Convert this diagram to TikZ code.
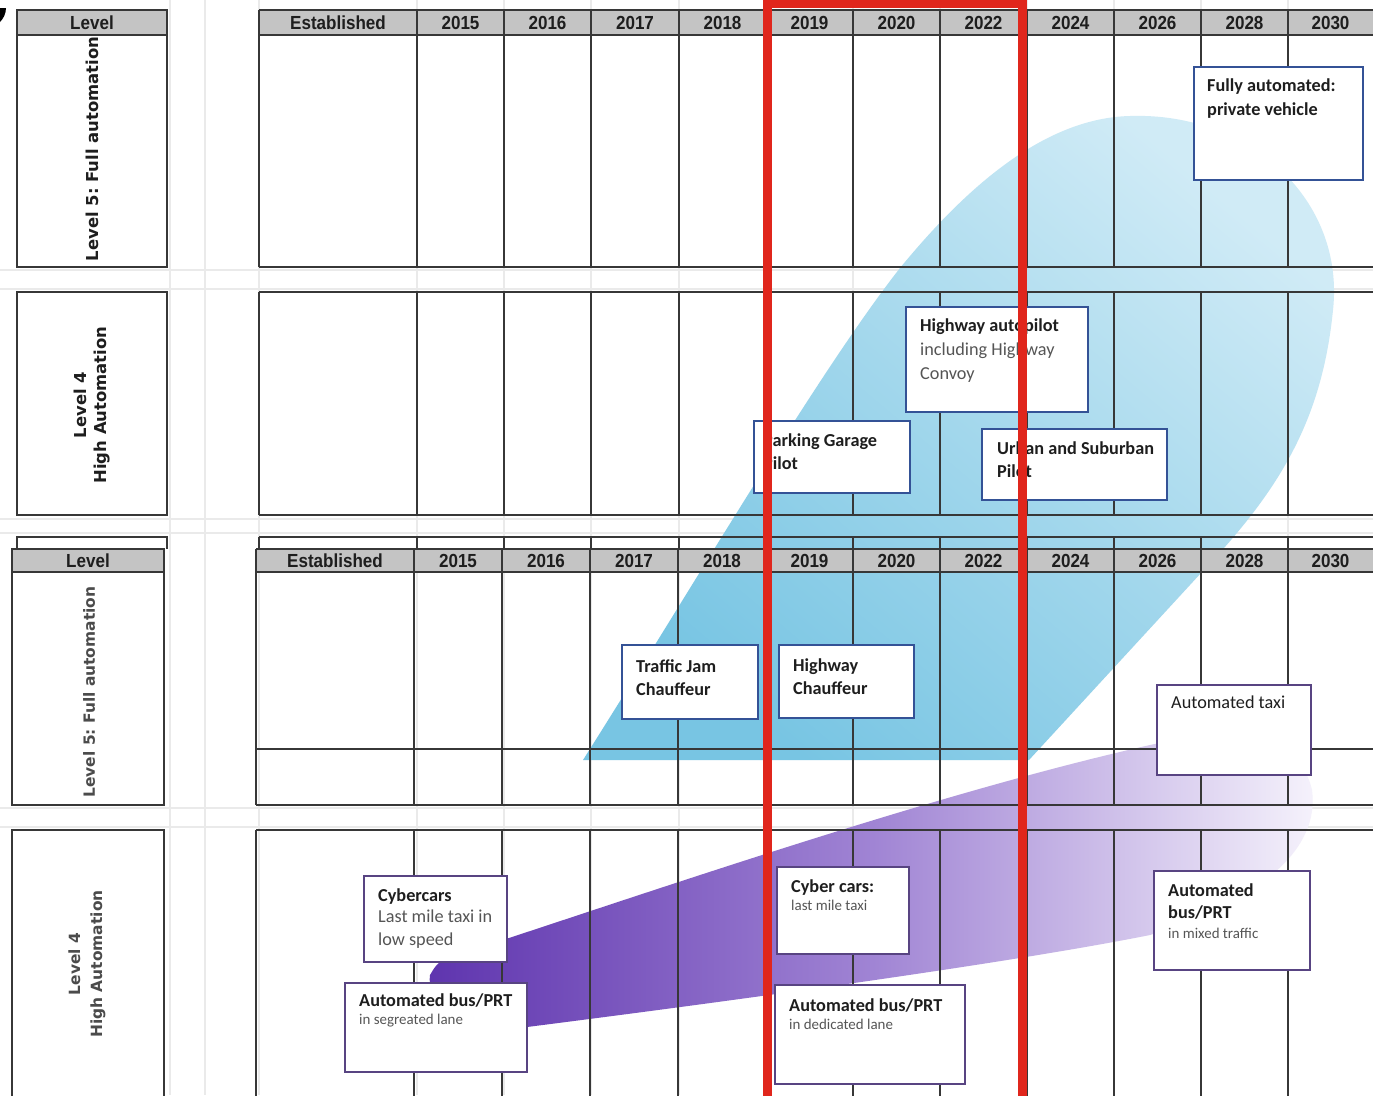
\documentclass[tikz,border=0pt]{standalone}
\usepackage{fontspec}
\frenchspacing
\newfontfamily\hdrfont[FakeStretch=0.9]{Liberation Sans}
\newfontfamily\dvfont{DejaVu Sans}
\newfontfamily\boxfont{Carlito}
\definecolor{hdrgray}{RGB}{196,196,196}
\definecolor{tblline}{RGB}{55,55,55}
\definecolor{faint}{RGB}{234,234,234}
\definecolor{bluebd}{RGB}{52,82,150}
\definecolor{purpbd}{RGB}{88,68,130}
\definecolor{redbd}{RGB}{224,38,28}
\definecolor{blueA}{RGB}{120,197,227}
\definecolor{blueM}{RGB}{162,215,236}
\definecolor{blueB}{RGB}{208,235,246}
\definecolor{purA}{RGB}{94,52,174}
\definecolor{purM}{RGB}{160,132,212}
\definecolor{purB}{RGB}{246,243,252}
\definecolor{txtdark}{RGB}{30,30,30}
\definecolor{txtgray}{RGB}{85,85,85}
\begin{document}
\begin{tikzpicture}[x=1bp,y=-1bp,
  tbl/.style={draw=tblline, line width=1.8bp},
  faintline/.style={draw=faint, line width=1.2bp},
  hdrtxt/.style={font=\hdrfont\bfseries\fontsize{19}{19}\selectfont, text=txtdark, inner sep=0},
  lvltxt/.style={font=\dvfont\bfseries\fontsize{16.5}{21}\selectfont, text=txtdark, inner sep=0, rotate=90, align=center},
  lvltxtb/.style={font=\dvfont\bfseries\fontsize{15.5}{22}\selectfont, text=txtdark!80, inner sep=0, rotate=90, align=center},
  bluebox/.style={draw=bluebd, line width=2.8bp, fill=white, inner sep=0, outer sep=0, anchor=north west},
  purbox/.style={draw=purpbd, line width=2.8bp, fill=white, inner sep=0, outer sep=0, anchor=north west},
  ttl/.style={font=\boxfont\bfseries\fontsize{18.3}{24}\selectfont, text=txtdark, align=left, inner sep=0, anchor=north west},
  reg/.style={font=\boxfont\fontsize{18.3}{22.5}\selectfont, text=txtgray, align=left, inner sep=0, anchor=north west},
  small/.style={font=\boxfont\fontsize{15}{17}\selectfont, text=txtgray, align=left, inner sep=0, anchor=north west},
  redframe/.style={draw=redbd, line width=9bp, line join=miter}
]
\useasboundingbox[fill=white] (0,0) rectangle (1373,1095);

% faint spreadsheet grid
\foreach \x in {170,205,259,417,504,591,679,766,853,940,1027,1114,1201,1288}
  \draw[faintline] (\x,0) -- (\x,1095);
\foreach \y in {270,289,519,533,808,827}
  \draw[faintline] (0,\y) -- (1373,\y);

% blue region
\shade[top color=blueB, bottom color=blueA, middle color=blueM, shading angle=-40]
  (583,760) .. controls (700,575) and (820,370) .. (900,268)
  .. controls (960,195) and (1040,118) .. (1130,116)
  .. controls (1250,112) and (1345,200) .. (1333,310)
  .. controls (1322,420) and (1280,490) .. (1201,573)
  -- (1029,760) -- cycle;

% purple region
\shade[left color=purA, right color=purB, middle color=purM]
  (430,975) .. controls (440,958) .. (509,938)
  .. controls (700,875) and (950,790) .. (1150,745)
  .. controls (1230,728) and (1300,735) .. (1312,790)
  .. controls (1320,850) and (1260,900) .. (1150,935)
  .. controls (1000,965) and (700,1005) .. (527,1027)
  .. controls (470,1032) and (425,1000) .. cycle;

% ---------- top table ----------
\fill[hdrgray] (17,10) rectangle (167,35);
\fill[hdrgray] (259,10) rectangle (1380,35);
\draw[tbl] (17,10) rectangle (167,35);
\draw[tbl] (17,35) rectangle (167,267);
\draw[tbl] (17,292) rectangle (167,515);
\draw[tbl] (17,549) -- (17,537) -- (167,537) -- (167,549);
\draw[tbl] (259,10) -- (1380,10) (259,35) -- (1380,35) (259,267) -- (1380,267)
  (259,292) -- (1380,292) (259,515) -- (1380,515) (259,537) -- (1380,537);
\foreach \x in {259,417,504,591,679,766,853,940,1027,1114,1201,1288}
  \draw[tbl] (\x,10) -- (\x,267) (\x,292) -- (\x,515) (\x,537) -- (\x,549);

% ---------- second table ----------
\fill[hdrgray] (12,549) rectangle (164,572);
\fill[hdrgray] (256,549) rectangle (1380,572);
\draw[tbl] (12,549) rectangle (164,572);
\draw[tbl] (12,572) rectangle (164,805);
\draw[tbl] (12,1100) -- (12,830) -- (164,830) -- (164,1100);
\draw[tbl] (256,549) -- (1380,549) (256,572) -- (1380,572) (256,749) -- (1380,749)
  (256,805) -- (1380,805) (256,830) -- (1380,830);
\foreach \x in {256,414,502,590,678,766,853,940,1027,1114,1201,1288}
  \draw[tbl] (\x,549) -- (\x,805) (\x,830) -- (\x,1100);

% header labels
\node[hdrtxt] (hl1) at (92,22.5) {Level};
\node[hdrtxt] (hl2) at (88,560.5) {Level};
\foreach \x/\l [count=\i] in {338/Established,460.5/2015,547.5/2016,635/2017,722.5/2018,809.5/2019,896.5/2020,983.5/2022,1070.5/2024,1157.5/2026,1244.5/2028,1330.5/2030}
  \node[hdrtxt] (ha\i) at (\x,22.5) {\l};
\foreach \x/\l [count=\i] in {335/Established,458/2015,546/2016,634/2017,722/2018,809.5/2019,896.5/2020,983.5/2022,1070.5/2024,1157.5/2026,1244.5/2028,1330.5/2030}
  \node[hdrtxt] (hb\i) at (\x,560.5) {\l};

% level labels
\node[lvltxt] (lv5a) at (92,149) {Level 5: Full automation};
\node[lvltxt] (lv4a) at (92,405) {Level 4\\High Automation};
\node[lvltxtb] (lv5b) at (89,692) {Level 5: Full automation};
\node[lvltxtb] (lv4b) at (87,964) {Level 4\\High Automation};

% ---------- boxes ----------
\node[bluebox, minimum width=169bp, minimum height=113bp] (b1) at (1194,67) {};
\node[bluebox, minimum width=182bp, minimum height=105bp] (b2) at (906,307) {};
\node[bluebox, minimum width=156bp, minimum height=72bp] (b3) at (754,421) {};
\node[bluebox, minimum width=185bp, minimum height=71bp] (b4) at (982,429) {};
\node[bluebox, minimum width=136bp, minimum height=74bp] (b5) at (622,645) {};
\node[bluebox, minimum width=135bp, minimum height=73bp] (b6) at (779,645) {};
\node[purbox, minimum width=154bp, minimum height=90bp] (b7) at (1157,685) {};
\node[purbox, minimum width=143bp, minimum height=86bp] (b8) at (364,876) {};
\node[purbox, minimum width=182bp, minimum height=89bp] (b9) at (345,983) {};
\node[purbox, minimum width=132bp, minimum height=87bp] (b10) at (777,867) {};
\node[purbox, minimum width=190bp, minimum height=99bp] (b11) at (775,985) {};
\node[purbox, minimum width=156bp, minimum height=99bp] (b12) at (1154,871) {};

% box texts
\node[ttl] (t1) at (1207,79) {Fully automated:\\private vehicle};
\node[ttl] (t2a) at (920,319) {Highway autopilot};
\node[reg, font=\boxfont\fontsize{18.3}{24}\selectfont] (t2b) at (920,343) {including Highway\\Convoy};
\node[ttl] (t3) at (763,433) {Parking Garage\\Pilot};
\node[ttl] (t4) at (997,441) {Urban and Suburban\\Pilot};
\node[ttl] (t5) at (636,659) {Traffic Jam\\Chauffeur};
\node[ttl] (t6) at (793,658) {Highway\\Chauffeur};
\node[reg, text=txtdark] (t7) at (1171,696) {Automated taxi};
\node[ttl] (t8a) at (378,888) {Cybercars};
\node[reg] (t8b) at (378,910) {Last mile taxi in\\low speed};
\node[ttl] (t9a) at (359,993) {Automated bus/PRT};
\node[small] (t9b) at (359,1014) {in segreated lane};
\node[ttl] (t10a) at (791,879) {Cyber cars:};
\node[small] (t10b) at (791,900) {last mile taxi};
\node[ttl] (t11a) at (789,998) {Automated bus/PRT};
\node[small] (t11b) at (789,1019) {in dedicated lane};
\node[ttl, font=\boxfont\bfseries\fontsize{18.3}{23}\selectfont] (t12a) at (1168,883) {Automated\\bus/PRT};
\node[small] (t12b) at (1168,928) {in mixed traffic};

% red frame
\draw[redframe] (767,1100) -- (767,3.5) -- (1022,3.5) -- (1022,1100);

% corner mark
\fill[black] (0,8) -- (6,8) .. controls (6,14) and (3,19) .. (0,22) -- cycle;
\end{tikzpicture}
\end{document}
